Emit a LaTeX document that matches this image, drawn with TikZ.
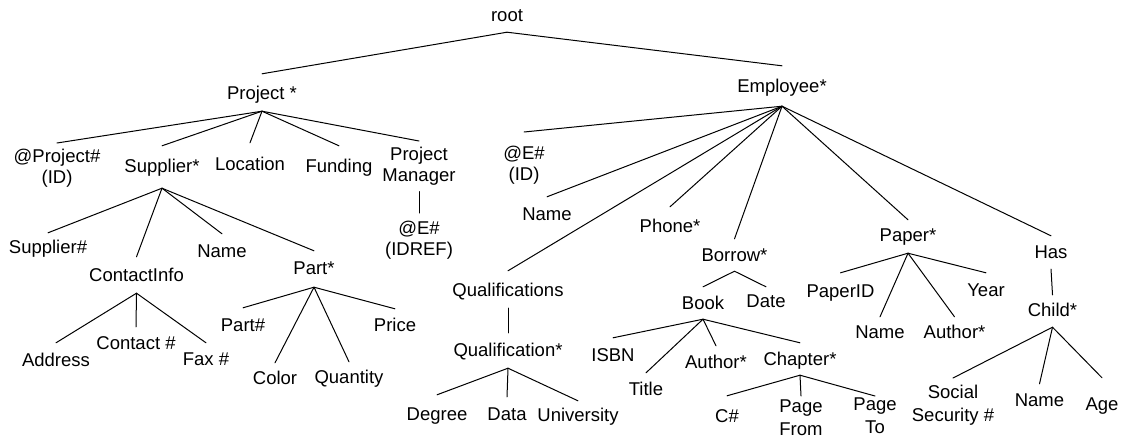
\documentclass[tikz,border=0pt]{standalone}
\usepackage{fontspec}
\setmainfont{Liberation Sans}
\begin{document}
\begin{tikzpicture}[x=1pt,y=-1pt,
  lab/.style={font=\fontsize{18.5}{21}\selectfont, inner xsep=0pt, inner ysep=0pt,
              text height=22pt, text depth=11pt, anchor=base},
  mlab/.style={font=\fontsize{18.5}{21}\selectfont, align=center, inner xsep=0pt, anchor=north},
  conn/.style={line width=1pt, line cap=round}]
\useasboundingbox (0,0) rectangle (1123,439);
% level 0/1
\node[lab] (root) at (507,21) {root};
\node[lab, text height=25pt, text depth=12pt] (proj) at (262,99) {Project *};
\node[lab, text height=26pt, text depth=14pt] (emp) at (782,92) {Employee*};
% Project children
\node[mlab, inner ysep=6pt] (pjid) at (57,143) {@Project\#\\(ID)};
\node[lab, text height=26pt, text depth=16pt] (sup) at (162,172) {Supplier*};
\node[lab, text height=27pt] (loc) at (250,170) {Location};
\node[lab, text height=26pt] (fund) at (339,172) {Funding};
\node[mlab, inner ysep=6pt] (pm) at (419,141) {Project\\Manager};
\node[mlab, inner ysep=8pt] (eref) at (419,213) {@E\#\\(IDREF)};
% Supplier children
\node[lab, text height=20pt] (supn) at (48,253) {Supplier\#};
\node[lab, text height=24pt, text depth=12pt] (ci) at (136.5,281) {ContactInfo};
\node[lab, text height=23pt] (sname) at (222,257) {Name};
\node[lab, text height=23pt, text depth=13pt] (part) at (314,274) {Part*};
\node[lab, text height=23pt] (addr) at (56,366) {Address};
\node[lab, text height=22pt] (cno) at (136,349) {Contact \#};
\node[lab, text height=22pt] (fax) at (206,365) {Fax \#};
\node[lab, text height=23pt] (partn) at (243,331) {Part\#};
\node[lab, text height=21pt] (color) at (275,384) {Color};
\node[lab, text height=21pt] (qty) at (349,383) {Quantity};
\node[lab, text height=22pt] (price) at (395,331) {Price};
% Employee children
\node[mlab, inner ysep=14pt] (eid) at (524,132) {@E\#\\(ID)};
\node[lab, text height=23pt] (ename) at (547,220) {Name};
\node[lab, text height=25pt, text depth=12pt] (quals) at (508,296) {Qualifications};
\node[lab, text height=25pt] (phone) at (670,232) {Phone*};
\node[lab, text height=22pt, text depth=10pt] (borrow) at (734.5,261) {Borrow*};
\node[lab, text height=21pt, text depth=12pt] (paper) at (908,241) {Paper*};
\node[lab, text height=22pt, text depth=11pt] (has) at (1051,258) {Has};
% Qualifications
\node[lab, text height=23pt, text depth=12pt] (qual) at (508,356) {Qualification*};
\node[lab, text height=25pt] (deg) at (437,420) {Degree};
\node[lab, text height=23pt] (data) at (507,420) {Data};
\node[lab, text height=20pt] (univ) at (578,421) {University};
% Borrow
\node[lab, text height=22pt, text depth=10pt] (book) at (703,309) {Book};
\node[lab, text height=20pt] (date) at (766,307) {Date};
\node[lab, text height=23pt] (isbn) at (613,361) {ISBN};
\node[lab, text height=22pt] (title) at (646,395) {Title};
\node[lab, text height=22pt] (bauth) at (716,368) {Author*};
\node[lab, text height=22pt, text depth=10pt] (chap) at (800,365) {Chapter*};
\node[lab, text height=26pt] (cnum) at (727,422) {C\#};
\node[mlab, inner ysep=4pt] (pf) at (801,396) {Page\\[2pt]From};
\node[mlab, inner ysep=2pt] (pt) at (875,396) {Page\\[2pt]To};
% Paper
\node[lab, text height=24pt] (pid) at (840.5,297) {PaperID};
\node[lab, text height=21pt] (pname) at (880,338) {Name};
\node[lab, text height=21pt] (pauth) at (954.5,338) {Author*};
\node[lab, text height=23pt] (year) at (986,296) {Year};
% Has
\node[lab, text height=21pt, text depth=11pt] (child) at (1052.5,316) {Child*};
\node[mlab, inner ysep=7pt] (ssn) at (953,378) {Social\\[2pt]Security \#};
\node[lab, text height=22pt] (cname) at (1039.5,406) {Name};
\node[lab, text height=32pt] (age) at (1102,410) {Age};
% connectors
\foreach \p/\c in {root/proj, root/emp,
  proj/pjid, proj/sup, proj/loc, proj/fund, proj/pm, pm/eref,
  sup/supn, sup/ci, sup/sname, sup/part,
  ci/addr, ci/cno, ci/fax,
  part/partn, part/color, part/qty, part/price,
  emp/eid, emp/ename, emp/quals, emp/phone, emp/borrow, emp/paper, emp/has,
  quals/qual, qual/deg, qual/data, qual/univ,
  borrow/book, borrow/date,
  book/isbn, book/title, book/bauth, book/chap,
  chap/cnum, chap/pf, chap/pt,
  paper/pid, paper/pname, paper/pauth, paper/year,
  has/child, child/ssn, child/cname, child/age}
  \draw[conn] (\p.south) -- (\c.north);
\end{tikzpicture}
\end{document}
